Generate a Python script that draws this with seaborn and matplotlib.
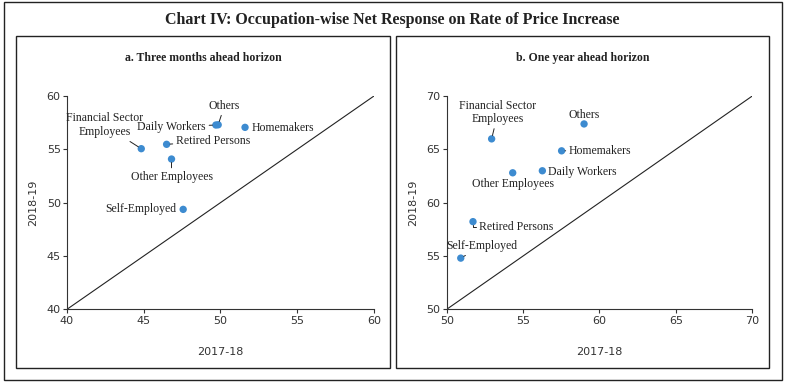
import matplotlib
matplotlib.use("Agg")
import matplotlib.pyplot as plt
import matplotlib.patches as mpatches
import pandas as pd
import seaborn as sns

# Occupation groups
occupations = ["Financial Sector\nEmployees", "Retired Persons", "Other Employees",
               "Daily Workers", "Others", "Homemakers", "Self-Employed"]

# a. Three months ahead horizon
three_m_2017 = [44.84, 46.49, 46.81, 49.70, 49.85, 51.60, 47.57]
three_m_2018 = [55.06, 55.47, 54.09, 57.28, 57.30, 57.06, 49.37]

# b. One year ahead horizon
one_y_2017 = [52.94, 51.72, 54.32, 56.26, 58.99, 57.52, 50.92]
one_y_2018 = [65.98, 58.22, 62.80, 62.99, 67.38, 64.86, 54.80]

# label placement (data coords), alignment, leader line style
lab_a = {
    "Financial Sector\nEmployees": (42.45, 57.25, "center", "line"),
    "Retired Persons": (47.10, 55.75, "left", "line"),
    "Other Employees": (46.81, 52.40, "center", "line"),
    "Daily Workers": (49.05, 57.10, "right", "line"),
    "Others": (50.25, 59.05, "center", "line"),
    "Homemakers": (52.00, 57.02, "left", None),
    "Self-Employed": (47.10, 49.37, "right", None),
}
lab_b = {
    "Financial Sector\nEmployees": (53.36, 68.45, "center", "line"),
    "Retired Persons": (52.10, 57.70, "left", "elbow"),
    "Other Employees": (54.36, 61.75, "center", None),
    "Daily Workers": (56.65, 62.90, "left", None),
    "Others": (58.99, 68.22, "center", None),
    "Homemakers": (58.00, 64.88, "left", "line"),
    "Self-Employed": (52.29, 55.92, "center", "line"),
}

panels = [
    ("a. Three months ahead horizon", three_m_2017, three_m_2018, (40, 60), [40, 45, 50, 55, 60], lab_a),
    ("b. One year ahead horizon", one_y_2017, one_y_2018, (50, 70), [50, 55, 60, 65, 70], lab_b),
]

sns.set_style("white")
plt.rcParams["font.family"] = ["DejaVu Sans"]
serif = "Liberation Serif"

fig = plt.figure(figsize=(7.87, 3.84), dpi=100)

# outer frame and panel frames
fig.patches.append(mpatches.Rectangle((0.005, 0.010), 0.989, 0.985, transform=fig.transFigure,
                                      fill=False, lw=1.0, ec="#222222"))
fig.patches.append(mpatches.Rectangle((0.0203, 0.0417), 0.4753, 0.8653, transform=fig.transFigure,
                                      fill=False, lw=1.0, ec="#222222"))
fig.patches.append(mpatches.Rectangle((0.5032, 0.0417), 0.4739, 0.8653, transform=fig.transFigure,
                                      fill=False, lw=1.0, ec="#222222"))

fig.text(0.498, 0.948, "Chart IV: Occupation-wise Net Response on Rate of Price Increase",
         ha="center", va="center", fontsize=11.5, fontweight="bold", family=serif, color="#222222")

ax_pos = [[0.0851, 0.1945, 0.3901, 0.5555], [0.5676, 0.1945, 0.3883, 0.5555]]
title_x = [0.258, 0.740]

for i, (title, xs, ys, lim, ticks, labels) in enumerate(panels):
    ax = fig.add_axes(ax_pos[i])
    df = pd.DataFrame({"x": xs, "y": ys, "occ": occupations})
    ax.axline((lim[0], lim[0]), slope=1, color="#222222", lw=0.8, zorder=1)
    sns.scatterplot(data=df, x="x", y="y", ax=ax, color="#3d8bd0", s=28,
                    edgecolor="none", zorder=3, legend=False)
    ax.set_xlim(lim)
    ax.set_ylim(lim)
    ax.set_xticks(ticks)
    ax.set_yticks(ticks)
    for s in ["top", "right"]:
        ax.spines[s].set_visible(False)
    for s in ["left", "bottom"]:
        ax.spines[s].set_color("#333333")
        ax.spines[s].set_linewidth(0.8)
    ax.tick_params(axis="both", length=3, width=0.8, color="#333333", labelsize=8,
                   labelcolor="#333333", pad=1.5, direction="out", left=True, bottom=True)
    ax.set_xlabel("2017-18", fontsize=8, color="#333333")
    ax.set_ylabel("2018-19", fontsize=8, color="#333333")
    ax.xaxis.set_label_coords(0.5, -0.175)
    ax.yaxis.set_label_coords(-0.095, 0.5)
    fig.text(title_x[i], 0.848, title, ha="center", va="center", fontsize=8.5,
             fontweight="bold", family=serif, color="#222222")

    for occ, px, py in zip(occupations, xs, ys):
        tx, ty, ha, leader = labels[occ]
        arrow = None
        if leader == "line":
            arrow = dict(arrowstyle="-", lw=0.7, color="#222222", shrinkA=0, shrinkB=2.5)
        elif leader == "elbow":
            arrow = dict(arrowstyle="-", lw=0.7, color="#222222", shrinkA=0, shrinkB=2.5,
                         relpos=(0, 0.5), connectionstyle="angle,angleA=180,angleB=90,rad=0")
        ax.annotate(occ, xy=(px, py), xytext=(tx, ty), textcoords="data",
                    ha=ha, va="center", multialignment="center", fontsize=8.5,
                    family=serif, color="#222222", arrowprops=arrow, zorder=4)

fig.savefig("out.png", dpi=100)
